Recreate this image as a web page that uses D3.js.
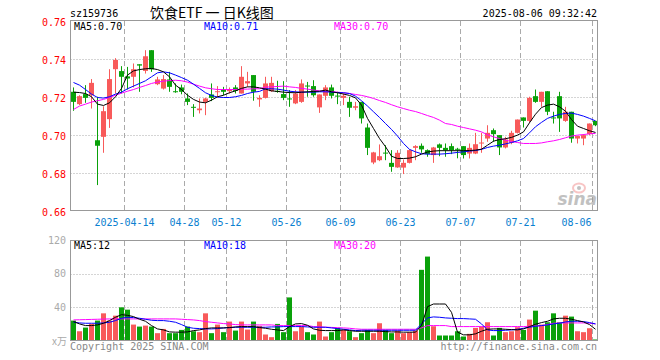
<!DOCTYPE html>
<html><head><meta charset="utf-8">
<script src="https://cdnjs.cloudflare.com/ajax/libs/d3/7.8.5/d3.min.js"></script>
<style>body{margin:0;background:#fff}svg{display:block}</style>
</head><body><svg id="c" width="660" height="360"></svg>
<script>
const dates = ["2025-03-31","2025-04-01","2025-04-02","2025-04-03","2025-04-07","2025-04-08","2025-04-09","2025-04-10","2025-04-11",
"2025-04-14","2025-04-15","2025-04-16","2025-04-17","2025-04-18","2025-04-21","2025-04-22","2025-04-23","2025-04-24","2025-04-25",
"2025-04-28","2025-04-29","2025-04-30","2025-05-06","2025-05-07","2025-05-08","2025-05-09",
"2025-05-12","2025-05-13","2025-05-14","2025-05-15","2025-05-16","2025-05-19","2025-05-20","2025-05-21","2025-05-22","2025-05-23",
"2025-05-26","2025-05-27","2025-05-28","2025-05-29","2025-05-30","2025-06-03","2025-06-04","2025-06-05","2025-06-06",
"2025-06-09","2025-06-10","2025-06-11","2025-06-12","2025-06-13","2025-06-16","2025-06-17","2025-06-18","2025-06-19","2025-06-20",
"2025-06-23","2025-06-24","2025-06-25","2025-06-26","2025-06-27","2025-06-30","2025-07-01","2025-07-02","2025-07-03","2025-07-04",
"2025-07-07","2025-07-08","2025-07-09","2025-07-10","2025-07-11","2025-07-14","2025-07-15","2025-07-16","2025-07-17","2025-07-18",
"2025-07-21","2025-07-22","2025-07-23","2025-07-24","2025-07-25","2025-07-28","2025-07-29","2025-07-30","2025-07-31","2025-08-01",
"2025-08-04","2025-08-05","2025-08-06"];

const open = [0.7230,0.7165,0.7218,0.7212,0.6975,0.6993,0.7086,0.7349,0.7339,0.7311,0.7309,0.7375,0.7340,0.7449,0.7270,0.7247,0.7295,0.7233,0.7253,0.7195,
0.7151,0.7133,0.7177,0.7216,0.7228,0.7242,0.7233,0.7253,0.7221,0.7274,0.7318,0.7190,0.7198,0.7233,0.7235,0.7218,0.7195,0.7169,0.7177,0.7263,
0.7260,0.7148,0.7209,0.7253,0.7210,0.7198,0.7177,0.7146,0.7177,0.7042,0.6858,0.6870,0.6910,0.6856,0.6832,0.6831,0.6856,0.6935,0.6946,0.6923,
0.6897,0.6953,0.6935,0.6944,0.6930,0.6944,0.6905,0.6905,0.6958,0.6984,0.7028,0.7002,0.6937,0.6962,0.7014,0.7095,0.7077,0.7207,0.7177,0.7233,
0.7095,0.7207,0.7077,0.7125,0.6984,0.6984,0.7007,0.7077];
const high = [0.7253,0.7212,0.7265,0.7297,0.7204,0.7154,0.7349,0.7407,0.7365,0.7361,0.7379,0.7375,0.7449,0.7449,0.7309,0.7318,0.7335,0.7274,0.7268,0.7221,
0.7165,0.7195,0.7198,0.7274,0.7260,0.7256,0.7253,0.7265,0.7365,0.7335,0.7318,0.7212,0.7309,0.7309,0.7288,0.7286,0.7239,0.7239,0.7295,0.7282,
0.7291,0.7216,0.7265,0.7268,0.7230,0.7221,0.7204,0.7177,0.7177,0.7063,0.6914,0.6953,0.6949,0.6923,0.6923,0.6874,0.6927,0.6949,0.6958,0.6927,
0.6940,0.6958,0.6958,0.6958,0.6935,0.6944,0.6958,0.7014,0.7014,0.7054,0.7037,0.7002,0.6993,0.7025,0.7084,0.7095,0.7204,0.7242,0.7230,0.7233,
0.7125,0.7230,0.7151,0.7125,0.6997,0.7007,0.7063,0.7077];
const low = [0.7130,0.7160,0.7172,0.7142,0.6739,0.6909,0.7040,0.7221,0.7221,0.7242,0.7253,0.7230,0.7326,0.7335,0.7265,0.7242,0.7230,0.7225,0.7217,0.7160,
0.7098,0.7116,0.7107,0.7181,0.7204,0.7212,0.7221,0.7221,0.7221,0.7256,0.7183,0.7151,0.7195,0.7230,0.7225,0.7186,0.7151,0.7165,0.7172,0.7204,
0.7204,0.7119,0.7186,0.7195,0.7165,0.7160,0.7098,0.7133,0.7063,0.6897,0.6849,0.6865,0.6870,0.6809,0.6830,0.6797,0.6853,0.6870,0.6909,0.6888,
0.6856,0.6891,0.6888,0.6902,0.6880,0.6879,0.6879,0.6902,0.6909,0.6967,0.6967,0.6897,0.6932,0.6954,0.7011,0.7042,0.7067,0.7172,0.7151,0.7107,
0.7063,0.7019,0.7072,0.6962,0.6958,0.6949,0.7002,0.7049];
const close = [0.7177,0.7207,0.7198,0.7277,0.6946,0.7128,0.7297,0.7398,0.7309,0.7300,0.7349,0.7368,0.7417,0.7348,0.7295,0.7297,0.7256,0.7228,0.7230,0.7177,
0.7149,0.7142,0.7195,0.7198,0.7233,0.7230,0.7242,0.7235,0.7309,0.7286,0.7230,0.7198,0.7274,0.7277,0.7230,0.7198,0.7193,0.7221,0.7274,0.7260,
0.7212,0.7216,0.7253,0.7209,0.7208,0.7209,0.7146,0.7154,0.7090,0.6935,0.6911,0.6891,0.6908,0.6835,0.6909,0.6856,0.6923,0.6944,0.6927,0.6902,
0.6937,0.6935,0.6923,0.6923,0.6925,0.6897,0.6935,0.6954,0.6963,0.7014,0.7007,0.6937,0.6979,0.7014,0.7084,0.7077,0.7198,0.7177,0.7230,0.7125,
0.7093,0.7090,0.7125,0.6984,0.6997,0.7002,0.7063,0.7054];

const volume = [24.5,11.7,16.1,20.5,24.5,33.2,24.5,30.4,40.4,37.6,19.7,17.3,18.5,17.3,9.4,14.5,9.4,9.4,13.3,17.3,
11.7,10.6,33.2,9.4,19.7,10.6,23.3,12.5,23.3,13.7,23.3,18.1,7.8,4.6,20.5,10.6,52.3,11.7,17.3,10.6,
7.8,23.3,5.4,10.6,15.7,13.3,11.7,4.6,9.4,13.3,9.4,21.3,13.3,9.4,12.5,9.4,10.6,12.5,85.4,101.3,
17.7,6.6,6.6,6.6,11.7,5.4,8.6,15.7,17.3,22.5,6.6,15.7,10.6,11.7,16.5,13.3,25.7,36.4,19.7,22.5,
33.2,22.5,30.4,29.3,11.7,10.6,15.3,1.8];

const ma5 = [0.7228,0.7226,0.7221,0.7204,0.7165,0.7158,0.7172,0.7204,0.7248,0.7318,0.7340,0.7347,0.7351,0.7353,0.7347,0.7335,0.7309,0.7265,0.7242,0.7212,
0.7190,0.7176,0.7172,0.7186,0.7204,0.7212,0.7225,0.7235,0.7248,0.7256,0.7256,0.7251,0.7244,0.7235,0.7232,0.7228,0.7226,0.7225,0.7228,0.7230,
0.7232,0.7233,0.7239,0.7230,0.7225,0.7218,0.7211,0.7198,0.7160,0.7090,0.7037,0.6984,0.6941,0.6891,0.6879,0.6879,0.6881,0.6888,0.6902,0.6913,
0.6918,0.6920,0.6920,0.6920,0.6920,0.6920,0.6921,0.6923,0.6928,0.6949,0.6970,0.6979,0.6983,0.6990,0.7002,0.7019,0.7067,0.7112,0.7147,0.7160,
0.7165,0.7151,0.7128,0.7084,0.7049,0.7037,0.7025,0.7016];
const ma10 = [0.7279,0.7265,0.7242,0.7218,0.7200,0.7197,0.7204,0.7218,0.7228,0.7246,0.7260,0.7274,0.7288,0.7309,0.7330,0.7335,0.7330,0.7318,0.7305,0.7291,
0.7270,0.7248,0.7225,0.7211,0.7202,0.7200,0.7200,0.7204,0.7211,0.7221,0.7228,0.7232,0.7246,0.7246,0.7244,0.7239,0.7233,0.7230,0.7228,0.7228,
0.7228,0.7230,0.7230,0.7228,0.7226,0.7225,0.7221,0.7207,0.7183,0.7155,0.7125,0.7095,0.7063,0.7032,0.6997,0.6958,0.6927,0.6914,0.6904,0.6902,
0.6902,0.6902,0.6904,0.6907,0.6911,0.6914,0.6918,0.6921,0.6927,0.6937,0.6944,0.6949,0.6956,0.6963,0.6972,0.6984,0.7014,0.7046,0.7069,0.7090,
0.7102,0.7111,0.7116,0.7118,0.7111,0.7102,0.7090,0.7077];
const ma30 = [0.7137,0.7155,0.7165,0.7176,0.7183,0.7190,0.7200,0.7212,0.7223,0.7233,0.7242,0.7253,0.7263,0.7274,0.7281,0.7286,0.7289,0.7291,0.7288,0.7281,
0.7270,0.7260,0.7251,0.7246,0.7242,0.7242,0.7242,0.7242,0.7244,0.7244,0.7246,0.7246,0.7255,0.7256,0.7258,0.7260,0.7256,0.7253,0.7248,0.7244,
0.7239,0.7235,0.7233,0.7232,0.7228,0.7225,0.7221,0.7216,0.7211,0.7204,0.7195,0.7184,0.7174,0.7162,0.7151,0.7142,0.7133,0.7126,0.7116,0.7105,
0.7095,0.7081,0.7063,0.7058,0.7049,0.7042,0.7035,0.7028,0.7019,0.7004,0.6993,0.6984,0.6975,0.6969,0.6963,0.6958,0.6958,0.6958,0.6961,0.6967,
0.6972,0.6979,0.6988,0.6997,0.7002,0.7005,0.7009,0.7011];

const volMa5 = [23.3,20.5,18.5,18.5,19.3,21.3,24.5,28.5,31.6,30.8,29.3,26.1,23.7,18.5,14.5,13.3,10.9,10.6,10.6,10.9,
12.5,13.3,14.9,15.7,15.7,15.7,16.1,16.9,17.3,17.3,17.3,16.1,15.3,14.1,13.3,12.5,17.3,20.5,20.9,18.9,
14.5,12.9,12.5,12.5,12.5,13.3,12.5,11.7,11.7,11.7,11.7,11.7,11.3,10.9,10.9,10.6,10.6,10.6,18.5,41.2,
44.4,44.4,44.4,34.4,10.6,7.4,7.4,8.6,11.7,14.1,14.5,14.5,14.1,13.7,13.3,14.5,17.3,20.1,22.1,23.7,
26.5,27.3,27.3,26.1,24.5,22.9,19.7,14.1];
const volMa10 = [22.5,21.7,21.3,21.3,21.3,21.7,22.5,24.5,27.3,28.5,28.1,27.3,26.1,24.9,24.5,24.5,23.7,22.5,19.7,16.5,
15.3,14.9,14.5,14.5,14.9,15.7,16.1,16.5,16.5,16.5,16.5,16.5,16.5,16.9,16.9,17.3,17.3,17.3,17.3,16.9,
16.5,16.5,16.5,15.7,14.9,14.1,13.3,12.5,12.9,12.9,12.9,12.9,12.9,12.9,12.9,12.9,12.9,12.9,20.5,27.7,
28.9,28.5,27.7,27.3,26.9,26.9,26.5,26.1,20.5,13.3,12.5,12.5,12.9,13.3,14.1,15.3,16.5,17.7,18.5,19.3,
20.5,21.3,22.9,23.7,23.7,23.3,22.1,20.5];
const volMa30 = [25.3,25.5,25.7,25.9,26.1,26.3,26.5,26.5,26.5,26.5,26.5,26.5,26.5,26.5,26.5,26.5,26.5,26.5,26.1,25.7,
25.3,24.5,23.3,22.5,21.7,20.9,20.5,19.7,19.3,19.3,19.3,19.3,19.3,19.3,18.5,18.5,18.5,18.5,18.5,18.5,
17.3,17.0,16.6,16.3,16.0,15.7,15.3,14.5,14.1,14.1,14.1,14.1,14.1,14.1,14.1,14.1,14.1,14.1,15.7,18.5,
18.5,18.5,18.5,17.3,17.3,17.3,17.3,17.3,17.3,17.3,17.3,17.3,17.3,17.3,17.3,17.3,17.7,18.1,18.5,19.7,
21.3,21.7,21.7,21.7,21.7,21.7,21.3,20.5];

const priceTicks = [0.66,0.68,0.70,0.72,0.74,0.76];
const volTicks = [40,80,120];
const dateTicks = ["2025-04-14","2025-04-28","2025-05-12","2025-05-26","2025-06-09","2025-06-23","2025-07-07","2025-07-21","2025-08-06"];
const dateTickLabels = ["2025-04-14","04-28","05-12","05-26","06-09","06-23","07-07","07-21","08-06"];
const maLabels = ["MA5:0.70","MA10:0.71","MA30:0.70"];
const volMaLabels = ["MA5:12","MA10:18","MA30:20"];

const RED = "#f85a5a", GREEN = "#0aa10a";
const MONO = "'DejaVu Sans Mono', 'Liberation Mono', monospace";
const svg = d3.select("#c");
const L = 70.5, R = 597.5;
const x = d3.scaleBand().domain(dates).range([L, L + dates.length * 6]).padding(0);
const y = d3.scaleLinear().domain([0.66, 0.76]).range([211.5, 21.5]);
const yv = d3.scaleLinear().domain([0, 120]).range([341, 241]);
const crisp = v => Math.floor(v) + 0.5;

// header
svg.append("text").attr("x", 70).attr("y", 17).attr("font-family", MONO).attr("font-size", 10).attr("fill", "#000").text("sz159736");
svg.append("text").attr("x", 150).attr("y", 18).attr("font-family", "'Noto Sans CJK SC', sans-serif").attr("font-size", 14).attr("fill", "#000").text("饮食ETF 一 日K线图");
svg.append("text").attr("x", 597).attr("y", 17).attr("text-anchor", "end").attr("font-family", MONO).attr("font-size", 10).attr("fill", "#000").text("2025-08-06 09:32:42");

// panels
const clipP = svg.append("clipPath").attr("id", "cp").append("rect").attr("x", L).attr("y", 20.5).attr("width", R - L).attr("height", 190.5);
const clipV = svg.append("clipPath").attr("id", "cv").append("rect").attr("x", L).attr("y", 240.5).attr("width", R - L).attr("height", 100.5);

// gridlines price
svg.append("g").selectAll("line").data(priceTicks.filter(t => t > 0.66 && t < 0.76)).join("line")
  .attr("x1", L).attr("x2", R).attr("y1", d => crisp(y(d))).attr("y2", d => crisp(y(d)))
  .attr("stroke", "#aaa").attr("stroke-dasharray", "1,2");
svg.append("g").selectAll("line").data(volTicks.filter(t => t < 120)).join("line")
  .attr("x1", L).attr("x2", R).attr("y1", d => crisp(yv(d))).attr("y2", d => crisp(yv(d)))
  .attr("stroke", "#aaa").attr("stroke-dasharray", "1,2");
// vertical dashed
const vg = svg.append("g");
dateTicks.forEach(d => {
  const xx = crisp(x(d));
  vg.append("line").attr("x1", xx).attr("x2", xx).attr("y1", 21).attr("y2", 211).attr("stroke", "#aaa").attr("stroke-dasharray", "5,3");
  vg.append("line").attr("x1", xx).attr("x2", xx).attr("y1", 241).attr("y2", 341).attr("stroke", "#aaa").attr("stroke-dasharray", "5,3");
});

// price labels
svg.append("g").selectAll("text").data(priceTicks).join("text")
  .attr("x", 66).attr("y", d => y(d) + 4).attr("text-anchor", "end")
  .attr("font-family", MONO).attr("font-size", 10).attr("fill", "#f00").text(d => d.toFixed(2));
// volume labels
svg.append("g").selectAll("text").data(volTicks).join("text")
  .attr("x", 66).attr("y", d => yv(d) + 3).attr("text-anchor", "end")
  .attr("font-family", MONO).attr("font-size", 10).attr("fill", "#aaa").text(d => d);
svg.append("text").attr("x", 67).attr("y", 345).attr("text-anchor", "end").attr("font-family", "'Noto Sans CJK SC', sans-serif").attr("font-size", 10).attr("fill", "#aaa").text("x万");

// date labels
svg.append("g").selectAll("text").data(dateTicks).join("text")
  .attr("x", (d, i) => i === dateTicks.length - 1 ? x(d) - 1 : x(d))
  .attr("y", 226).attr("text-anchor", (d, i) => i === dateTicks.length - 1 ? "end" : "middle")
  .attr("font-family", MONO).attr("font-size", 10).attr("fill", "#0a80d0").text((d, i) => dateTickLabels[i]);

// watermark
const wm = svg.append("g").attr("opacity", 0.6);
wm.append("text").attr("x", 597).attr("y", 205).attr("text-anchor", "end").attr("font-family", "'DejaVu Sans', sans-serif")
  .attr("font-size", 17).attr("font-weight", "bold").attr("font-style", "italic").attr("fill", "#999").text("sina");
wm.append("ellipse").attr("cx", 579).attr("cy", 188).attr("rx", 6).attr("ry", 4.5).attr("fill", "none").attr("stroke", "#f5a0a0").attr("stroke-width", 2);
wm.append("circle").attr("cx", 579).attr("cy", 188).attr("r", 2).attr("fill", "#999");

// candles
const idx = d3.range(dates.length);
const cg = svg.append("g").attr("clip-path", "url(#cp)");
cg.selectAll("line").data(idx).join("line")
  .attr("x1", i => x(dates[i]) + 3).attr("x2", i => x(dates[i]) + 3)
  .attr("y1", i => y(high[i])).attr("y2", i => y(low[i]))
  .attr("stroke", i => close[i] >= open[i] ? RED : GREEN);
cg.selectAll("rect").data(idx).join("rect")
  .attr("x", i => x(dates[i]) + 0.5).attr("width", 5)
  .attr("y", i => y(Math.max(open[i], close[i])))
  .attr("height", i => Math.max(1, Math.abs(y(open[i]) - y(close[i]))))
  .attr("fill", i => close[i] >= open[i] ? RED : GREEN);

const line = arr => d3.line().x((d, i) => x(dates[i]) + 3).y(d => y(d))(arr);
const vline = arr => d3.line().x((d, i) => x(dates[i]) + 3).y(d => yv(d))(arr);
[[ma30, "#f0f"], [ma10, "#00f"], [ma5, "#000"]].forEach(([a, c]) =>
  cg.append("path").attr("d", line(a)).attr("fill", "none").attr("stroke", c).attr("stroke-width", 1));

// volume
const vgp = svg.append("g").attr("clip-path", "url(#cv)");
vgp.selectAll("rect").data(idx).join("rect")
  .attr("x", i => x(dates[i]) + 0.5).attr("width", 5)
  .attr("y", i => yv(volume[i])).attr("height", i => yv(0) - yv(volume[i]))
  .attr("fill", i => close[i] >= open[i] ? RED : GREEN);
[[volMa30, "#f0f"], [volMa10, "#00f"], [volMa5, "#000"]].forEach(([a, c]) =>
  vgp.append("path").attr("d", vline(a)).attr("fill", "none").attr("stroke", c).attr("stroke-width", 1));

// frames
svg.append("rect").attr("x", L).attr("y", 20.5).attr("width", R - L).attr("height", 190).attr("fill", "none").attr("stroke", "#999");
svg.append("rect").attr("x", L).attr("y", 240.5).attr("width", R - L).attr("height", 100).attr("fill", "none").attr("stroke", "#999");

// MA labels
const maCols = ["#000", "#00f", "#f0f"];
const maX = [74, 204, 334];
maLabels.forEach((t, i) => svg.append("text").attr("x", maX[i]).attr("y", 30).attr("font-family", MONO).attr("font-size", 10).attr("fill", maCols[i]).text(t));
volMaLabels.forEach((t, i) => svg.append("text").attr("x", maX[i]).attr("y", 249).attr("font-family", MONO).attr("font-size", 10).attr("fill", maCols[i]).text(t));

// footer
svg.append("text").attr("x", 70).attr("y", 350).attr("font-family", MONO).attr("font-size", 10).attr("fill", "#888").text("Copyright 2025 SINA.COM");
svg.append("text").attr("x", 597).attr("y", 350).attr("text-anchor", "end").attr("font-family", MONO).attr("font-size", 10).attr("fill", "#888").text("http://finance.sina.com.cn");
</script></body></html>
